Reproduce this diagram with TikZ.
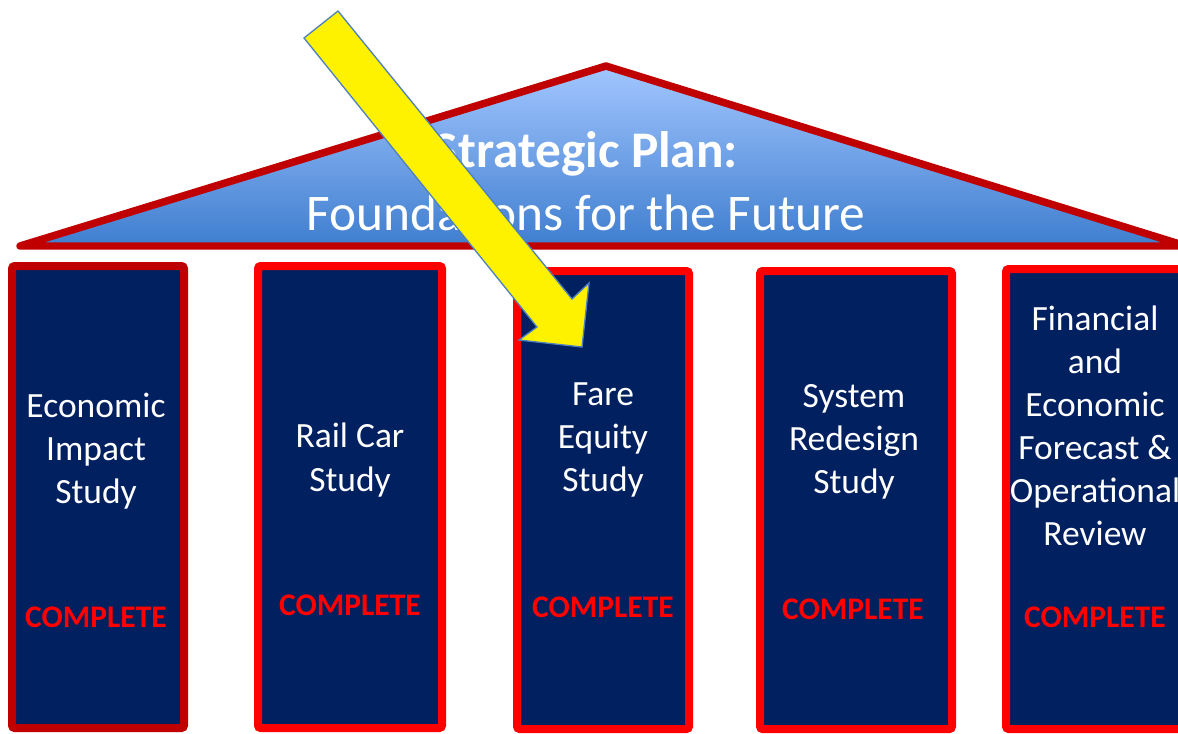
\documentclass[tikz,border=0pt]{standalone}
\usepackage{fontspec}
\setmainfont{Carlito}
\definecolor{navy}{HTML}{002060}
\definecolor{darkred}{HTML}{C00000}
\definecolor{skytop}{HTML}{A2C6FF}
\definecolor{skybot}{HTML}{3F7ECF}
\definecolor{arrowedge}{HTML}{4F81BD}

\begin{document}
\begin{tikzpicture}[x=0.75pt,y=-0.75pt,
    pillar/.style={draw=red,fill=navy,line width=6pt,rounded corners=2pt},
    study/.style={text=white,align=center,font=\fontsize{26.6}{32.3}\selectfont},
    done/.style={text=red,font=\fontsize{23.6}{28}\selectfont\bfseries}]
  \useasboundingbox (0,0) rectangle (1178,733);
  \clip (0,0) rectangle (1178,733);
  % roof
  \draw[line width=5.6pt,darkred,line join=round,top color=skytop,bottom color=skybot]
    (20,246) -- (606,66) -- (1186,246) -- cycle;
  \node[text=white,align=center,font=\fontsize{38.5}{47}\selectfont] (title) at (586,181)
    {\textbf{Strategic Plan:}\\Foundations for the Future};
  % pillars
  \draw[pillar,draw=darkred] (12,266) rectangle (184,728);
  \draw[pillar] (258,266) rectangle (442,728);
  \draw[pillar] (517,271) rectangle (689,729);
  \draw[pillar] (760,271) rectangle (952,729);
  \draw[pillar] (1006,269) rectangle (1192,729);
  \node[study] (econ) at (96,451) {Economic\\Impact\\Study};
  \node[study] (rail) at (350,460) {Rail Car\\Study};
  \node[study] (fare) at (603,440) {Fare\\Equity\\Study};
  \node[study] (redesign) at (854,442) {System\\Redesign\\Study};
  \node[study] (forecast) at (1095,426) {Financial\\and\\Economic\\Forecast \&\\Operational\\Review};
  \node[done] (econdone) at (96,617) {COMPLETE};
  \node[done] (raildone) at (350,605) {COMPLETE};
  \node[done] (faredone) at (603,607) {COMPLETE};
  \node[done] (redesigndone) at (853,609) {COMPLETE};
  \node[done] (forecastdone) at (1095,617) {COMPLETE};
  % arrow
  \draw[fill=yellow,draw=arrowedge,line width=1pt,line join=miter]
    (304,38) -- (537,327) -- (519,340) -- (582,347) -- (589,283) -- (572,299) -- (338,11) -- cycle;
\end{tikzpicture}
\end{document}
